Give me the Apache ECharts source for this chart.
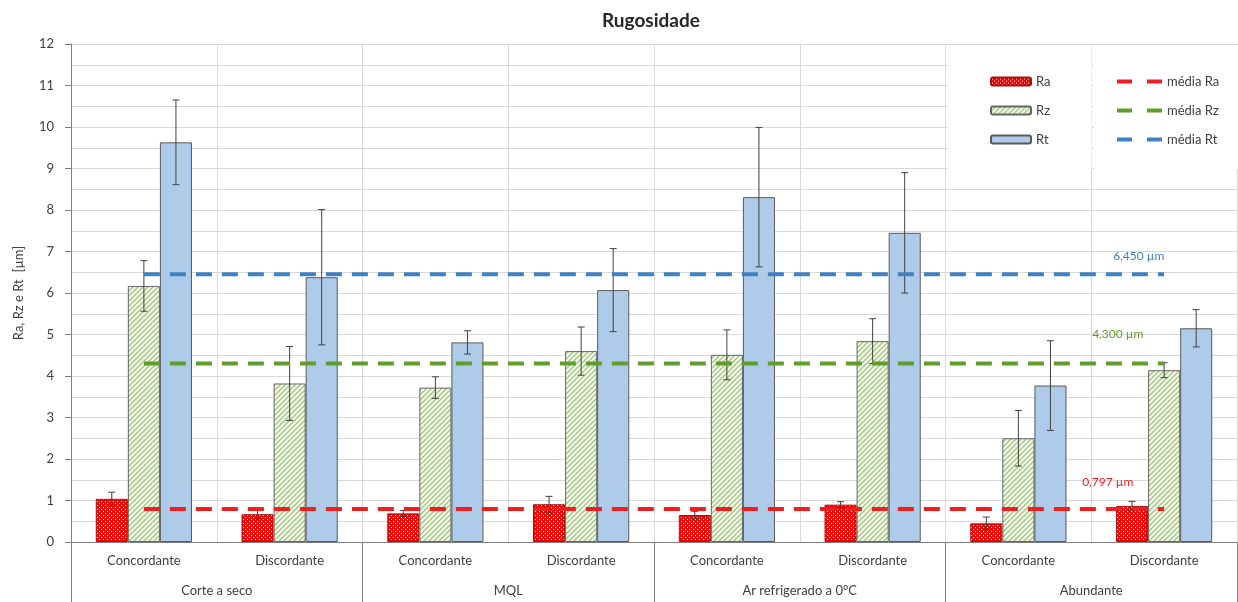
<!DOCTYPE html>
<html>
<head>
<meta charset="utf-8">
<script src="https://cdn.jsdelivr.net/npm/echarts@6/dist/echarts.min.js"></script>
<style>
html,body{margin:0;padding:0;background:#fff;}
#chart{width:1238px;height:602px;}
</style>
</head>
<body>
<div id="chart"></div>
<script>
// ---- data ----
const subCategories = ['Concordante','Discordante','Concordante','Discordante','Concordante','Discordante','Concordante','Discordante'];
const groups = ['Corte a seco','MQL','Ar refrigerado a 0°C','Abundante'];
const raValues = [1.04, 0.67, 0.69, 0.91, 0.65, 0.90, 0.45, 0.87];
const raErrors = [0.16, 0.12, 0.07, 0.19, 0.09, 0.07, 0.15, 0.11];
const rzValues = [6.17, 3.82, 3.72, 4.60, 4.51, 4.84, 2.50, 4.14];
const rzErrors = [0.61, 0.89, 0.26, 0.58, 0.60, 0.54, 0.67, 0.18];
const rtValues = [9.63, 6.38, 4.81, 6.07, 8.31, 7.45, 3.77, 5.15];
const rtErrors = [1.02, 1.63, 0.28, 1.00, 1.68, 1.45, 1.08, 0.45];
const meanRa = 0.797;
const meanRz = 4.300;
const meanRt = 6.450;
const yTicks = {min: 0, max: 12, interval: 1};

// ---- patterns ----
function makePattern(w, h, draw) {
  const c = document.createElement('canvas');
  c.width = w; c.height = h;
  const ctx = c.getContext('2d');
  draw(ctx);
  return {image: c, repeat: 'repeat'};
}
const raPattern = makePattern(4, 4, ctx => {
  ctx.fillStyle = '#ff0000'; ctx.fillRect(0, 0, 4, 4);
  ctx.fillStyle = '#ffffff';
  ctx.fillRect(1, 1, 1, 1); ctx.fillRect(3, 3, 1, 1);
});
const rzPattern = makePattern(5, 5, ctx => {
  ctx.fillStyle = '#f3f8ec'; ctx.fillRect(0, 0, 5, 5);
  ctx.strokeStyle = '#a3c47f'; ctx.lineWidth = 1.3;
  ctx.beginPath();
  ctx.moveTo(-1, 6); ctx.lineTo(6, -1);
  ctx.moveTo(-6, 6); ctx.lineTo(1, -1);
  ctx.moveTo(4, 6); ctx.lineTo(11, -1);
  ctx.stroke();
});
const rtColor = '#afcbea';

const GAP = 0.34;
function errSeries(name, values, errors, k) {
  return {
    type: 'custom',
    name: name,
    xAxisIndex: 0,
    z: 5,
    data: values.map((v, i) => [i, v - errors[i], v + errors[i]]),
    renderItem: function (params, api) {
      const band = api.size([1, 0])[0];
      const bw = band * (1 - GAP) / 3;
      const lo = api.coord([api.value(0), api.value(1)]);
      const hi = api.coord([api.value(0), api.value(2)]);
      const x = lo[0] + k * bw;
      const cap = 3.5;
      const st = {stroke: '#404040', lineWidth: 1};
      return {
        type: 'group',
        children: [
          {type: 'line', shape: {x1: x, y1: lo[1], x2: x, y2: hi[1]}, style: st},
          {type: 'line', shape: {x1: x - cap, y1: lo[1], x2: x + cap, y2: lo[1]}, style: st},
          {type: 'line', shape: {x1: x - cap, y1: hi[1], x2: x + cap, y2: hi[1]}, style: st}
        ]
      };
    }
  };
}

function meanSeries(name, mean, color, offset) {
  const label = mean.toFixed(3).replace('.', ',') + ' µm';
  return {
    type: 'line',
    name: name,
    xAxisIndex: 0,
    z: 6,
    symbol: 'none',
    lineStyle: {color: color, width: 4, type: [16, 10]},
    itemStyle: {color: color},
    endLabel: {show: true, offset: offset, formatter: label, distance: 5,
      color: color, fontFamily: 'Lato', fontSize: 12},
    data: subCategories.map(() => mean)
  };
}

const chart = echarts.init(document.getElementById('chart'), null, {renderer: 'canvas'});
const txt = '#404040';
const option = {
  animation: false,
  backgroundColor: '#ffffff',
  title: {
    text: 'Rugosidade', left: 597, top: 6,
    textStyle: {fontFamily: 'Lato', fontWeight: 'bold', fontSize: 19, color: '#262626'}
  },
  grid: {left: 71, right: 1, top: 44, bottom: 60},
  legend: [
    {
      data: ['Ra', 'Rz', 'Rt'], orient: 'vertical', left: 948, top: 45,
      backgroundColor: '#ffffff', padding: [29, 41, 22, 42],
      itemWidth: 40, itemHeight: 8, itemGap: 14,
      textStyle: {fontFamily: 'Lato', fontSize: 13, color: txt, lineHeight: 15}
    },
    {
      data: ['média Ra', 'média Rz', 'média Rt'], orient: 'vertical', left: 1094, top: 45,
      backgroundColor: '#ffffff', padding: [29, 30, 22, 21],
      itemWidth: 45, itemHeight: 8, itemGap: 14,
      itemStyle: {opacity: 0},
      lineStyle: {type: [15, 15], width: 4},
      textStyle: {fontFamily: 'Lato', fontSize: 13, color: txt, lineHeight: 15}
    }
  ],
  xAxis: [
    {
      type: 'category', data: subCategories, position: 'bottom',
      axisLine: {show: true, lineStyle: {color: '#7f7f7f', width: 1}},
      axisTick: {show: false},
      splitLine: {show: true, interval: 0, lineStyle: {color: '#d9d9d9', width: 1}},
      axisLabel: {margin: 12, interval: 0, fontFamily: 'Lato', fontSize: 13, color: txt}
    },
    {
      type: 'category', data: groups, position: 'bottom',
      axisLine: {show: false},
      axisTick: {show: true, length: 60, interval: 0, lineStyle: {color: '#7f7f7f', width: 1}},
      splitLine: {show: false},
      axisLabel: {margin: 42, interval: 0, fontFamily: 'Lato', fontSize: 13, color: txt}
    }
  ],
  yAxis: {
    type: 'value', min: yTicks.min, max: yTicks.max, interval: yTicks.interval,
    name: 'Ra, Rz e Rt  [µm]', nameLocation: 'middle', nameGap: 46,
    nameTextStyle: {fontFamily: 'Lato', fontSize: 13, color: txt},
    axisLine: {show: true, lineStyle: {color: '#7f7f7f', width: 1}},
    axisTick: {show: true, length: 6, lineStyle: {color: '#7f7f7f'}},
    axisLabel: {margin: 17, fontFamily: 'Lato', fontSize: 13, color: txt},
    splitLine: {show: true, lineStyle: {color: '#d9d9d9', width: 1}},
    minorTick: {show: false, splitNumber: 2},
    minorSplitLine: {show: true, lineStyle: {color: '#d9d9d9', width: 1}}
  },
  series: [
    {
      type: 'bar', name: 'Ra', xAxisIndex: 0, data: raValues,
      barGap: '0%', barCategoryGap: (GAP * 100) + '%',
      itemStyle: {color: raPattern, borderColor: '#a31515', borderWidth: 1}
    },
    {
      type: 'bar', name: 'Rz', xAxisIndex: 0, data: rzValues,
      itemStyle: {color: rzPattern, borderColor: '#666666', borderWidth: 1}
    },
    {
      type: 'bar', name: 'Rt', xAxisIndex: 0, data: rtValues,
      itemStyle: {color: rtColor, borderColor: '#595959', borderWidth: 1}
    },
    errSeries('errRa', raValues, raErrors, -1),
    errSeries('errRz', rzValues, rzErrors, 0),
    errSeries('errRt', rtValues, rtErrors, 1),
    meanSeries('média Ra', meanRa, '#f01e1e', [-87, -27]),
    meanSeries('média Rz', meanRz, '#5f9e2c', [-77, -29]),
    meanSeries('média Rt', meanRt, '#3f82c4', [-56, -18])
  ]
};
chart.setOption(option);
</script>
</body>
</html>
